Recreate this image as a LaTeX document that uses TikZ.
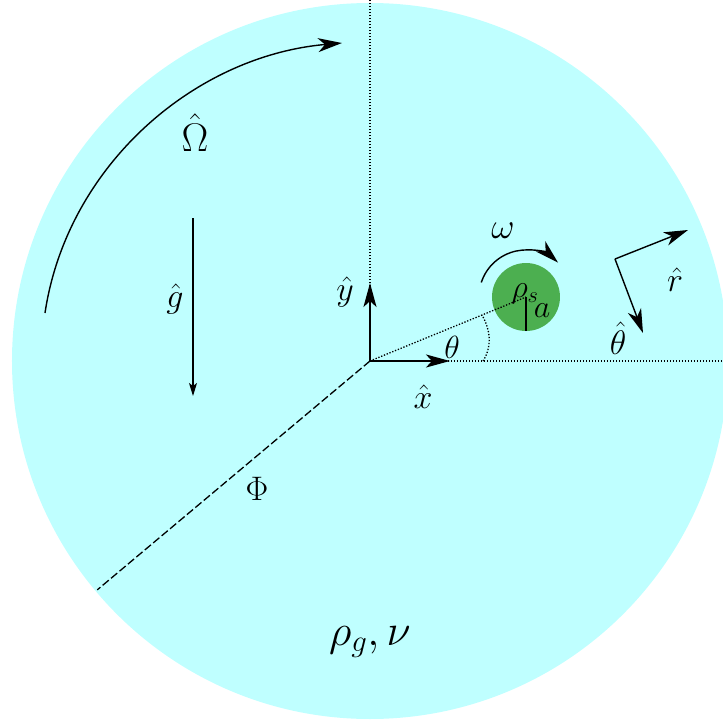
\RequirePackage{fix-cm}
\documentclass[tikz,border=0pt]{standalone}
\usetikzlibrary{arrows.meta}
\definecolor{fluid}{RGB}{191,255,255}
\definecolor{grain}{RGB}{76,175,80}
\begin{document}
\begin{tikzpicture}[x=1pt,y=1pt,
  lab/.style={inner sep=0pt, font=\fontsize{34}{40}\selectfont},
  smalllab/.style={inner sep=0pt, font=\fontsize{32}{36}\selectfont},
  dotline/.style={line width=1.3pt, dash pattern=on 1.3pt off 1.7pt},
  thinarrow/.style={line width=1.4pt, -{Stealth[length=24pt,width=14pt,inset=7pt]}},
  garrow/.style={line width=1.3pt, -{Stealth[length=13pt,width=8pt,inset=3pt]}},
  axisarrow/.style={line width=2.2pt, -{Stealth[length=24pt,width=13pt,inset=6pt]}}]
\useasboundingbox (-370,-363) rectangle (353,361);
\begin{scope}
  \clip (-370,-363) rectangle (353,361);
  \fill[fluid] (0,0) circle (358pt);
\end{scope}
% reference lines
\coordinate (O) at (0,0);
\coordinate (ytop) at (0,361);
\coordinate (xend) at (353,0);
\coordinate (phiend) at (220:356pt);
\draw[dotline] (O) -- (ytop);
\draw[dotline] (O) -- (xend);
\draw[line width=1.3pt, dash pattern=on 8pt off 3pt] (O) -- (phiend);
% particle
\node[circle, fill=grain, minimum size=68pt, inner sep=0pt] (p) at (156,64) {};
\draw[dotline] (O) -- (p.center);
\draw[line width=1.6pt] (p.center) -- (p.south);
\coordinate (th1) at (113,0);
\coordinate (th2) at (112,46);
\draw[dotline] (th1) .. controls (122,14) and (121,30) .. (th2);
% rotation of particle
\draw[thinarrow] ([shift={(162:47pt)}]p.center) arc[start angle=162, end angle=47, radius=47pt];
% Omega arc
\coordinate (om1) at (-325,48);
\coordinate (om2) at (-28,318);
\draw[thinarrow] (om1) .. controls (-303,195) and (-176,305) .. (om2);
% gravity
\coordinate (g1) at (-177,143);
\coordinate (g2) at (-177,-35);
\draw[garrow] (g1) -- (g2);
% axes
\coordinate (yax) at (0,78);
\coordinate (xax) at (80,0);
\draw[axisarrow] (O) -- (yax);
\draw[axisarrow] (O) -- (xax);
% polar frame
\coordinate (v) at (245,102);
\coordinate (rt) at (318,131);
\coordinate (tt) at (273,28);
\draw[thinarrow] (v) -- (rt);
\draw[thinarrow] (v) -- (tt);
% labels
\node[lab, font=\fontsize{40}{44}\selectfont] (Omlab) at (-175,228) {$\hat\Omega$};
\node[lab] (Philab) at (-113,-128) {$\Phi$};
\node[lab] (glab) at (-195,62) {$\hat g$};
\node[lab] (ylab) at (-25,69) {$\hat y$};
\node[lab] (xlab) at (53,-36) {$\hat x$};
\node[smalllab] (thlab) at (82,14) {$\theta$};
\node[smalllab] (rhos) at (155,67) {$\rho_s$};
\node[smalllab] (alab) at (172,50) {$a$};
\node[lab, font=\fontsize{36}{40}\selectfont] (omlab) at (133,130) {$\omega$};
\node[lab] (rlab) at (305,81) {$\hat r$};
\node[lab] (thhat) at (248,23) {$\hat\theta$};
\node[lab, font=\fontsize{44}{48}\selectfont] (fluidlab) at (0,-281) {$\rho_g,\nu$};
\end{tikzpicture}
\end{document}
